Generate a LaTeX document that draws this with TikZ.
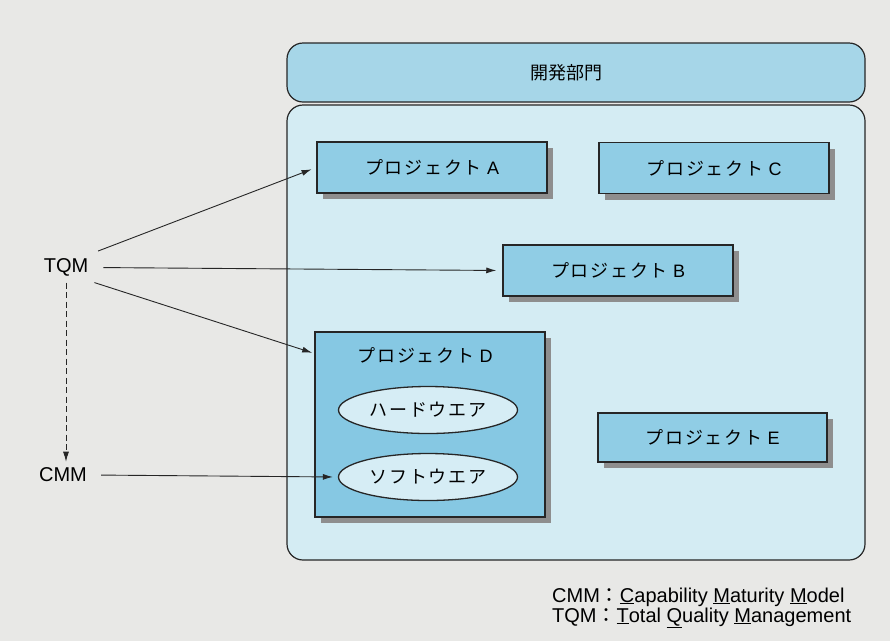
\documentclass[tikz,border=0pt]{standalone}
\usepackage{fontspec}
\setmainfont{Liberation Sans}
\newfontfamily\jp{Noto Sans CJK JP}
\newfontfamily\jps[LetterSpace=10]{Noto Sans CJK JP}
\usetikzlibrary{shapes.geometric,shadows,arrows.meta,calc}
\definecolor{bgc}{HTML}{E8E8E6}
\definecolor{headc}{HTML}{A6D6E8}
\definecolor{bodyc}{HTML}{D4ECF3}
\definecolor{projc}{HTML}{90CDE5}
\definecolor{projd}{HTML}{86C8E3}
\definecolor{ellc}{HTML}{D6EDF5}
\definecolor{shadc}{HTML}{8E8E8E}
\definecolor{linec}{HTML}{262626}
\tikzset{
  projbox/.style={draw=linec, line width=1.5pt, fill=projc, minimum width=230pt, minimum height=51pt,
    font=\jps\fontsize{18}{21}\selectfont, inner sep=0pt,
    drop shadow={shadow xshift=6pt, shadow yshift=-6pt, fill=shadc, opacity=1}},
  subell/.style={ellipse, draw=linec, line width=1.3pt, fill=ellc, minimum width=179pt, minimum height=47pt,
    font=\jps\fontsize{18}{21}\selectfont, inner sep=0pt},
  lbl/.style={font=\fontsize{20}{24}\selectfont, inner sep=6pt},
  conn/.style={draw=linec, line width=0.9pt, -{Latex[length=10pt,width=6pt]}},
}
\begin{document}
\begin{tikzpicture}[x=1pt,y=-1pt]
\fill[bgc] (0,0) rectangle (890,641);
\useasboundingbox (0,0) rectangle (890,641);
% department
\node[draw=linec, line width=1.2pt, fill=bodyc, rounded corners=16pt, minimum width=578pt, minimum height=455pt, inner sep=0pt] (body) at (576,332.5) {};
\node[draw=linec, line width=1.2pt, fill=headc, rounded corners=16pt, minimum width=578pt, minimum height=59pt, inner sep=0pt] (head) at (576,72.5) {};
\node[font=\jp\fontsize{18}{21}\selectfont] (headt) at (566,73) {開発部門};
% projects
\node[projbox] (A) at (432,167.5) {プロジェクト{\fontsize{18}{21}\selectfont\rmfamily\ A}};
\node[projbox] (C) at (714,168) {プロジェクト{\fontsize{18}{21}\selectfont\rmfamily\ C}};
\node[projbox] (B) at (618,270.5) {プロジェクト{\fontsize{18}{21}\selectfont\rmfamily\ B}};
\node[projbox, minimum width=229pt, minimum height=49pt] (E) at (712.5,437.5) {プロジェクト{\fontsize{18}{21}\selectfont\rmfamily\ E}};
\node[projbox, fill=projd, minimum width=230pt, minimum height=185pt] (D) at (430,424.5) {};
\node[font=\jps\fontsize{18}{21}\selectfont] (Dt) at (425,355) {プロジェクト{\rmfamily\ D}};
\node[subell] (hard) at (428,410) {ハードウエア};
\node[subell] (soft) at (428,477) {ソフトウエア};
% left labels
\node[lbl] (TQM) at (66,267.5) {TQM};
\node[lbl] (CMM) at (63,475) {CMM};
\coordinate (dIn) at (316,354);
\draw[conn, shorten <=4pt, shorten >=5pt] (TQM.north east) -- (A.west);
\draw[conn, shorten <=9pt, shorten >=6pt] (TQM.east) -- (B.west);
\draw[conn, shorten >=4pt] (TQM.south east) -- (dIn);
\draw[conn, dash pattern=on 6pt off 3.5pt] (TQM.south) -- (TQM.south |- CMM.north);
\draw[conn, shorten <=8pt, shorten >=5pt] (CMM.east) -- (soft.west);
% legend
\node[anchor=base west, font=\fontsize{20}{24}\selectfont, inner sep=0pt] (leg1) at (552,602) {CMM{\jp ：}\underline{C}apability \underline{M}aturity \underline{M}odel};
\node[anchor=base west, font=\fontsize{20}{24}\selectfont, inner sep=0pt] (leg2) at (552,622) {TQM{\jp ：}\underline{T}otal \underline{Q}uality \underline{M}anagement};
\end{tikzpicture}
\end{document}
